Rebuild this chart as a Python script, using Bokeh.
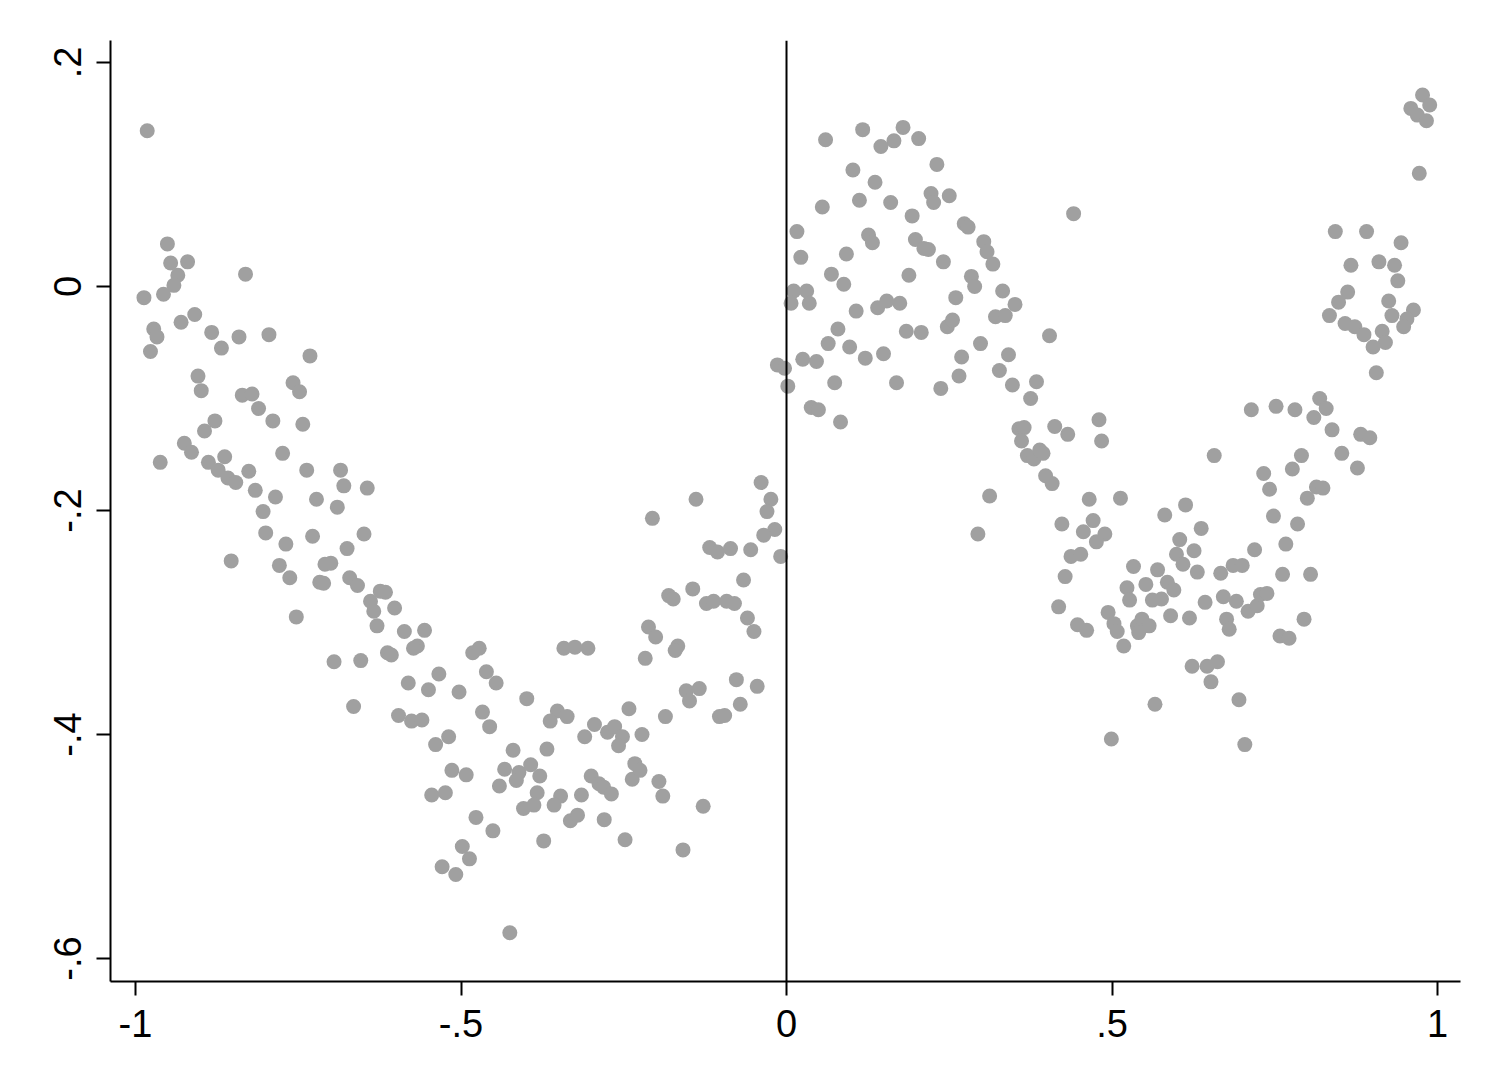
from bokeh.plotting import figure
from bokeh.models import Range1d, FixedTicker, Span, CustomJSTickFormatter, ColumnDataSource
from bokeh.embed import file_html
from bokeh.resources import INLINE

# ---- data (x < 0 part, then x > 0 part) ----
x_left = [
    -0.982, -0.951, -0.920, -0.946, -0.935, -0.941, -0.957, -0.987, -0.831, -0.972,
    -0.967, -0.977, -0.930, -0.909, -0.883, -0.868, -0.841, -0.795, -0.732, -0.904,
    -0.899, -0.836, -0.821, -0.758, -0.748, -0.811, -0.789, -0.743, -0.878, -0.894,
    -0.925, -0.914, -0.962, -0.888, -0.863, -0.873, -0.858, -0.846, -0.826, -0.774,
    -0.737, -0.685, -0.680, -0.644, -0.816, -0.785, -0.722, -0.690, -0.804, -0.800,
    -0.769, -0.728, -0.649, -0.675, -0.853, -0.779, -0.763, -0.709, -0.700, -0.717,
    -0.711, -0.671, -0.659, -0.624, -0.616, -0.639, -0.602, -0.634, -0.753, -0.629,
    -0.587, -0.556, -0.567, -0.573, -0.613, -0.607, -0.695, -0.654, -0.534, -0.581,
    -0.482, -0.472, -0.342, -0.325, -0.305, -0.461, -0.446, -0.550, -0.503, -0.665,
    -0.399, -0.596, -0.576, -0.560, -0.467, -0.456, -0.352, -0.337, -0.363, -0.242,
    -0.295, -0.310, -0.275, -0.264, -0.252, -0.258, -0.519, -0.539, -0.420, -0.368,
    -0.514, -0.492, -0.433, -0.441, -0.411, -0.415, -0.393, -0.379, -0.300, -0.288,
    -0.281, -0.269, -0.233, -0.237, -0.545, -0.524, -0.383, -0.404, -0.388, -0.347,
    -0.357, -0.315, -0.477, -0.451, -0.332, -0.321, -0.280, -0.373, -0.248, -0.498,
    -0.487, -0.529, -0.508, -0.425, -0.039, -0.024, -0.030, -0.139, -0.206, -0.018,
    -0.035, -0.009, -0.118, -0.106, -0.086, -0.055, -0.066, -0.144, -0.181, -0.174,
    -0.123, -0.112, -0.092, -0.080, -0.060, -0.050, -0.212, -0.201, -0.167, -0.171,
    -0.217, -0.077, -0.045, -0.154, -0.134, -0.149, -0.071, -0.186, -0.103, -0.095,
    -0.222, -0.225, -0.196, -0.190, -0.128, -0.159,
]
y_left = [
    0.139, 0.038, 0.022, 0.021, 0.010, 0.001, -0.007, -0.010, 0.011, -0.038,
    -0.045, -0.058, -0.032, -0.025, -0.041, -0.055, -0.045, -0.043, -0.062, -0.080,
    -0.093, -0.097, -0.096, -0.086, -0.094, -0.109, -0.120, -0.123, -0.120, -0.129,
    -0.140, -0.148, -0.157, -0.157, -0.152, -0.164, -0.171, -0.175, -0.165, -0.149,
    -0.164, -0.164, -0.178, -0.180, -0.182, -0.188, -0.190, -0.197, -0.201, -0.220,
    -0.230, -0.223, -0.221, -0.234, -0.245, -0.249, -0.260, -0.248, -0.247, -0.264,
    -0.265, -0.260, -0.267, -0.272, -0.273, -0.281, -0.287, -0.290, -0.295, -0.303,
    -0.308, -0.307, -0.321, -0.323, -0.327, -0.329, -0.335, -0.334, -0.346, -0.354,
    -0.327, -0.323, -0.323, -0.322, -0.323, -0.344, -0.354, -0.360, -0.362, -0.375,
    -0.368, -0.383, -0.388, -0.387, -0.380, -0.393, -0.379, -0.384, -0.388, -0.377,
    -0.391, -0.402, -0.398, -0.393, -0.402, -0.410, -0.402, -0.409, -0.414, -0.413,
    -0.432, -0.436, -0.431, -0.446, -0.434, -0.441, -0.427, -0.437, -0.437, -0.444,
    -0.447, -0.453, -0.426, -0.440, -0.454, -0.452, -0.452, -0.466, -0.463, -0.455,
    -0.463, -0.454, -0.474, -0.486, -0.477, -0.472, -0.476, -0.495, -0.494, -0.500,
    -0.511, -0.518, -0.525, -0.577, -0.175, -0.190, -0.201, -0.190, -0.207, -0.217,
    -0.222, -0.241, -0.233, -0.237, -0.234, -0.235, -0.262, -0.270, -0.276, -0.279,
    -0.283, -0.281, -0.281, -0.283, -0.296, -0.308, -0.304, -0.313, -0.321, -0.325,
    -0.332, -0.351, -0.357, -0.361, -0.359, -0.370, -0.373, -0.384, -0.384, -0.383,
    -0.400, -0.432, -0.442, -0.455, -0.464, -0.503,
]
x_right = [
    0.060, 0.117, 0.179, 0.165, 0.145, 0.203, 0.231, 0.102, 0.136, 0.055,
    0.112, 0.160, 0.222, 0.226, 0.250, 0.193, 0.441, 0.016, 0.126, 0.132,
    0.273, 0.279, 0.198, 0.211, 0.218, 0.303, 0.308, 0.317, 0.022, 0.092,
    0.241, 0.069, 0.088, 0.188, 0.284, 0.289, 0.011, 0.031, 0.007, 0.035,
    0.260, 0.332, 0.140, 0.154, 0.174, 0.107, 0.351, 0.321, 0.336, 0.247,
    0.255, 0.079, 0.184, 0.207, 0.404, 0.064, 0.097, 0.298, 0.121, 0.149,
    0.269, 0.341, 0.025, 0.046, -0.014, -0.003, 0.265, 0.327, 0.002, 0.074,
    0.169, 0.237, 0.347, 0.384, 0.375, 0.038, 0.049, 0.083, 0.357, 0.365,
    0.361, 0.412, 0.432, 0.480, 0.484, 0.370, 0.380, 0.389, 0.394, 0.398,
    0.408, 0.312, 0.294, 0.465, 0.513, 0.423, 0.471, 0.456, 0.489, 0.476,
    0.437, 0.452, 0.428, 0.581, 0.613, 0.637, 0.604, 0.599, 0.609, 0.626,
    0.631, 0.533, 0.570, 0.523, 0.552, 0.585, 0.595, 0.562, 0.576, 0.527,
    0.418, 0.447, 0.461, 0.494, 0.503, 0.508, 0.518, 0.539, 0.546, 0.557,
    0.541, 0.590, 0.619,
    0.643, 0.667, 0.686, 0.700, 0.671, 0.691, 0.676, 0.680,
    0.719, 0.709, 0.723, 0.728, 0.738, 0.733, 0.742, 0.748, 0.777, 0.800,
    0.785, 0.767, 0.762, 0.805, 0.795, 0.758, 0.772,
    0.623, 0.646, 0.662, 0.652, 0.695, 0.566, 0.499, 0.704, 0.977, 0.988,
    0.959, 0.969, 0.983, 0.972, 0.843, 0.891, 0.944, 0.867, 0.910, 0.934,
    0.939, 0.862, 0.848, 0.834, 0.925, 0.930, 0.963, 0.953, 0.948, 0.858,
    0.873, 0.887, 0.915, 0.920, 0.901, 0.906, 0.819,
    0.714, 0.752, 0.781,
    0.829, 0.810, 0.838, 0.882, 0.896, 0.853, 0.877, 0.657, 0.791, 0.814, 0.824,
]
y_right = [
    0.131, 0.140, 0.142, 0.130, 0.125, 0.132, 0.109, 0.104, 0.093, 0.071,
    0.077, 0.075, 0.083, 0.075, 0.081, 0.063, 0.065, 0.049, 0.046, 0.039,
    0.056, 0.053, 0.042, 0.034, 0.033, 0.040, 0.031, 0.020, 0.026, 0.029,
    0.022, 0.011, 0.002, 0.010, 0.009, 0.000, -0.004, -0.004, -0.015, -0.015,
    -0.010, -0.004, -0.019, -0.013, -0.015, -0.022, -0.016, -0.027, -0.026, -0.036,
    -0.030, -0.038, -0.040, -0.041, -0.044, -0.051, -0.054, -0.051, -0.064, -0.060,
    -0.063, -0.061, -0.065, -0.067, -0.070, -0.073, -0.080, -0.075, -0.089, -0.086,
    -0.086, -0.091, -0.088, -0.085, -0.100, -0.108, -0.110, -0.121, -0.127, -0.126,
    -0.138, -0.125, -0.132, -0.119, -0.138, -0.151, -0.154, -0.146, -0.149, -0.169,
    -0.176, -0.187, -0.221, -0.190, -0.189, -0.212, -0.209, -0.219, -0.221, -0.228,
    -0.241, -0.239, -0.259, -0.204, -0.195, -0.216, -0.226, -0.239, -0.248, -0.236,
    -0.255, -0.250, -0.253, -0.269, -0.266, -0.264, -0.271, -0.280, -0.279, -0.280,
    -0.286, -0.302, -0.307, -0.291, -0.301, -0.308, -0.321, -0.303, -0.297, -0.303,
    -0.309, -0.294, -0.296,
    -0.282, -0.256, -0.249, -0.249, -0.277, -0.281, -0.297, -0.306,
    -0.235, -0.290, -0.285, -0.275, -0.274, -0.167, -0.181, -0.205, -0.163, -0.189,
    -0.212, -0.230, -0.257, -0.257, -0.297, -0.312, -0.314,
    -0.339, -0.339, -0.335, -0.353, -0.369, -0.373, -0.404, -0.409, 0.171, 0.162,
    0.159, 0.153, 0.148, 0.101, 0.049, 0.049, 0.039, 0.019, 0.022, 0.019,
    0.005, -0.005, -0.014, -0.026, -0.013, -0.026, -0.021, -0.029, -0.036, -0.033,
    -0.036, -0.043, -0.040, -0.050, -0.054, -0.077, -0.100,
    -0.110, -0.107, -0.110,
    -0.109, -0.117, -0.128, -0.132, -0.135, -0.149, -0.162, -0.151, -0.151, -0.179, -0.180,
]

x_ticks = [-1, -0.5, 0, 0.5, 1]
y_ticks = [-0.6, -0.4, -0.2, 0, 0.2]
cutoff = 0.0

source = ColumnDataSource(data=dict(x=x_left + x_right, y=y_left + y_right))

p = figure(
    width=1484, height=1076,
    output_backend="svg", toolbar_location=None,
    x_range=Range1d(-1.0384, 1.0353), y_range=Range1d(-0.6205, 0.2196),
    min_border_left=110, min_border_right=24, min_border_top=40, min_border_bottom=95,
)
p.outline_line_color = None
p.grid.visible = False
p.background_fill_color = "white"
p.border_fill_color = "white"

p.scatter("x", "y", source=source, size=15, fill_color="#a0a0a0", line_color=None)

p.add_layout(Span(location=cutoff, dimension="height", line_color="black", line_width=2))

fmt = CustomJSTickFormatter(code="""
if (Math.abs(tick) < 1e-9) { return "0"; }
var s = (Math.round(tick * 10) / 10).toString();
return s.replace("0.", ".");
""")

for ax in (p.xaxis[0], p.yaxis[0]):
    ax.formatter = fmt
    ax.minor_tick_line_color = None
    ax.major_tick_in = 0
    ax.major_tick_out = 14
    ax.axis_line_color = "black"
    ax.axis_line_width = 2
    ax.major_tick_line_color = "black"
    ax.major_tick_line_width = 2
    ax.major_label_text_font = "Liberation Sans"
    ax.major_label_text_font_size = "38px"
    ax.major_label_text_color = "black"

p.xaxis[0].ticker = FixedTicker(ticks=x_ticks)
p.yaxis[0].ticker = FixedTicker(ticks=y_ticks)
p.yaxis[0].major_label_orientation = "vertical"
p.xaxis[0].major_label_standoff = 14
p.yaxis[0].major_label_standoff = 15

open("out.html", "w").write(file_html(p, INLINE))
